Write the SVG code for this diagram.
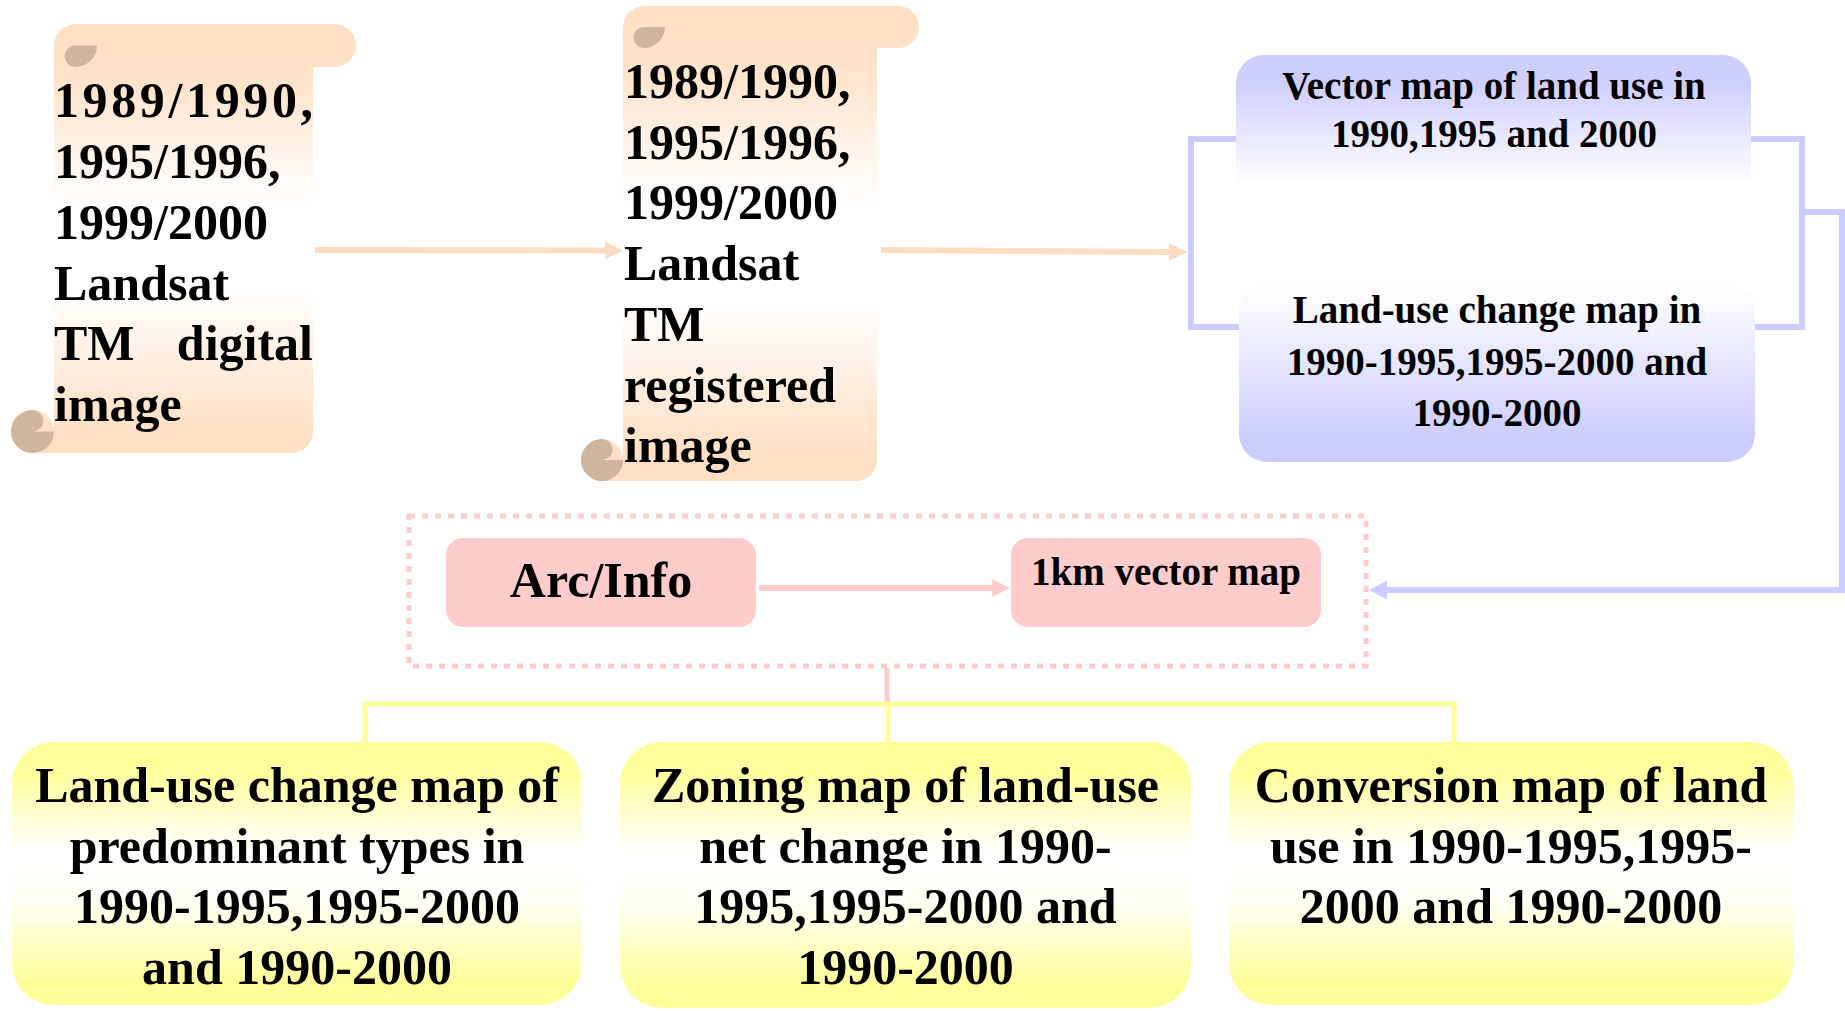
<svg xmlns="http://www.w3.org/2000/svg" width="1845" height="1011" viewBox="0 0 1845 1011">
<defs>
<style>
.t{font-family:"Liberation Serif","Times New Roman",serif;font-weight:bold;fill:#000}
.big{font-size:50px}
.mid{font-size:39px}
.c{text-anchor:middle}
.curl{fill:#CFB59C}
.con{fill:none;stroke-linejoin:miter}
</style>
<linearGradient id="gScroll" x1="0" y1="0" x2="0" y2="1">
<stop offset="0" stop-color="#FFDFC3"/>
<stop offset="0.12" stop-color="#FFE2C8"/>
<stop offset="0.42" stop-color="#FFFFFF"/>
<stop offset="0.62" stop-color="#FFFFFF"/>
<stop offset="0.95" stop-color="#FFDFC3"/>
<stop offset="1" stop-color="#FFDFC3"/>
</linearGradient>
<linearGradient id="gBlueTop" x1="0" y1="0" x2="0" y2="1">
<stop offset="0" stop-color="#CCCCFF"/>
<stop offset="0.2" stop-color="#CFCFFF"/>
<stop offset="0.9" stop-color="#FFFFFF"/>
<stop offset="1" stop-color="#FFFFFF"/>
</linearGradient>
<linearGradient id="gBlueBot" x1="0" y1="0" x2="0" y2="1">
<stop offset="0" stop-color="#FFFFFF"/>
<stop offset="0.1" stop-color="#FAFAFF"/>
<stop offset="0.88" stop-color="#CCCCFF"/>
<stop offset="1" stop-color="#CCCCFF"/>
</linearGradient>
<linearGradient id="gYellow" x1="0" y1="0" x2="0" y2="1">
<stop offset="0" stop-color="#FFFF99"/>
<stop offset="0.12" stop-color="#FFFF9E"/>
<stop offset="0.42" stop-color="#FFFFFF"/>
<stop offset="0.6" stop-color="#FFFFF6"/>
<stop offset="0.92" stop-color="#FFFF99"/>
<stop offset="1" stop-color="#FFFF99"/>
</linearGradient>
<marker id="aPeach" markerUnits="userSpaceOnUse" markerWidth="20" markerHeight="20" refX="1" refY="9" orient="auto">
<path d="M0,0 L18,9 L0,18 Z" fill="#FDDCC0"/>
</marker>
<marker id="aPink" markerUnits="userSpaceOnUse" markerWidth="20" markerHeight="20" refX="1" refY="9" orient="auto">
<path d="M0,0 L18,9 L0,18 Z" fill="#FFCCCC"/>
</marker>
<marker id="aBlue" markerUnits="userSpaceOnUse" markerWidth="20" markerHeight="20" refX="1" refY="9.5" orient="auto">
<path d="M0,0 L18,9.5 L0,19 Z" fill="#CCCCFF"/>
</marker>
</defs>

<rect width="1845" height="1011" fill="#FFFFFF"/>

<g id="connectors" class="con">
<line x1="315" y1="250" x2="606" y2="250.5" stroke="#FDDCC0" stroke-width="6" marker-end="url(#aPeach)"/>
<line x1="881" y1="250" x2="1170" y2="252" stroke="#FDDCC0" stroke-width="6" marker-end="url(#aPeach)"/>
<polyline points="1236,139 1191,139 1191,327 1239,327" stroke="#CCCCFF" stroke-width="6"/>
<polyline points="1751,139 1802,139 1802,327 1755,327" stroke="#CCCCFF" stroke-width="6"/>
<polyline points="1802,212 1842,212 1842,590 1386,590" stroke="#CCCCFF" stroke-width="6" marker-end="url(#aBlue)"/>
<line x1="759" y1="588" x2="993" y2="588" stroke="#FFCCCC" stroke-width="6" marker-end="url(#aPink)"/>
<line x1="887" y1="668" x2="887" y2="704" stroke="#FFCCCC" stroke-width="5"/>
<polyline points="365,742 365,704 1454,704 1454,742" stroke="#FFFF99" stroke-width="5"/>
<line x1="888" y1="704" x2="888" y2="742" stroke="#FFFF99" stroke-width="5"/>
</g>

<g id="scroll1" transform="translate(11,24)">
<path d="M43,21.5 A21.5,21.5 0 0 1 64.5,0 L323.5,0 A21.5,21.5 0 0 1 323.5,43 L302,43 L302,407.5 A21.5,21.5 0 0 1 280.5,429 L21.5,429 A21.5,21.5 0 0 1 21.5,386 A21.5,21.5 0 0 1 43,407.5 Z" fill="url(#gScroll)"/>
<path class="curl" d="M64.5,21.5 A10.75,10.75 0 0 0 64.5,43 A21.5,21.5 0 0 0 86,21.5 Z"/>
<path class="curl" d="M21.5,386 A10.75,10.75 0 0 1 21.5,407.5 L43,407.5 A21.5,21.5 0 1 1 21.5,386 Z"/>
</g>
<g id="scroll1-text" class="t big">
<text x="54" y="117" textLength="259" lengthAdjust="spacing">1989/1990,</text>
<text x="54" y="178">1995/1996,</text>
<text x="54" y="238.5">1999/2000</text>
<text x="54" y="299.5">Landsat</text>
<text x="54" y="360">TM</text>
<text x="313" y="360" text-anchor="end">digital</text>
<text x="54" y="421">image</text>
</g>

<g id="scroll2" transform="translate(581,6)">
<path d="M42,21 A21,21 0 0 1 63,0 L317,0 A21,21 0 0 1 317,42 L296,42 L296,454 A21,21 0 0 1 275,475 L21,475 A21,21 0 0 1 21,433 A21,21 0 0 1 42,454 Z" fill="url(#gScroll)"/>
<path class="curl" d="M63,21 A10.5,10.5 0 0 0 63,42 A21,21 0 0 0 84,21 Z"/>
<path class="curl" d="M21,433 A10.5,10.5 0 0 1 21,454 L42,454 A21,21 0 1 1 21,433 Z"/>
</g>
<g id="scroll2-text" class="t big">
<text x="624" y="98">1989/1990,</text>
<text x="624" y="158.7">1995/1996,</text>
<text x="624" y="219.4">1999/2000</text>
<text x="624" y="280.1">Landsat</text>
<text x="624" y="340.8">TM</text>
<text x="624" y="401.5">registered</text>
<text x="624" y="462.2">image</text>
</g>

<g id="vector-map">
<rect x="1236" y="55" width="515" height="144" rx="28" fill="url(#gBlueTop)"/>
<text class="t mid c" x="1494" y="99">Vector map of land use in</text>
<text class="t mid c" x="1494" y="147">1990,1995 and 2000</text>
</g>

<g id="change-map">
<rect x="1239" y="283" width="516" height="179" rx="28" fill="url(#gBlueBot)"/>
<text class="t mid c" x="1497" y="323">Land-use change map in</text>
<text class="t mid c" x="1497" y="375">1990-1995,1995-2000 and</text>
<text class="t mid c" x="1497" y="426">1990-2000</text>
</g>

<g id="gis-group">
<rect x="409" y="516" width="957" height="150" fill="none" stroke="#FFCCCC" stroke-width="5" stroke-dasharray="6 7"/>
</g>

<g id="arcinfo">
<rect x="446" y="538" width="310" height="89" rx="17" fill="#FFCCCC"/>
<text class="t big c" x="601" y="597">Arc/Info</text>
</g>

<g id="vector-1km">
<rect x="1011" y="538" width="310" height="89" rx="17" fill="#FFCCCC"/>
<text class="t mid c" x="1166" y="585">1km vector map</text>
</g>

<g id="predominant">
<rect x="12" y="742" width="570" height="263" rx="42" fill="url(#gYellow)"/>
<text class="t big c" x="297" y="802">Land-use change map of</text>
<text class="t big c" x="297" y="862.7">predominant types in</text>
<text class="t big c" x="297" y="923.4">1990-1995,1995-2000</text>
<text class="t big c" x="297" y="984">and 1990-2000</text>
</g>

<g id="zoning">
<rect x="620" y="742" width="571" height="266" rx="42" fill="url(#gYellow)"/>
<text class="t big c" x="905.5" y="802">Zoning map of land-use</text>
<text class="t big c" x="905.5" y="862.7">net change in 1990-</text>
<text class="t big c" x="905.5" y="923.4">1995,1995-2000 and</text>
<text class="t big c" x="905.5" y="984">1990-2000</text>
</g>

<g id="conversion">
<rect x="1229" y="742" width="564" height="263" rx="42" fill="url(#gYellow)"/>
<text class="t big c" x="1511" y="802">Conversion map of land</text>
<text class="t big c" x="1511" y="862.7">use in 1990-1995,1995-</text>
<text class="t big c" x="1511" y="923.4">2000 and 1990-2000</text>
</g>
</svg>
